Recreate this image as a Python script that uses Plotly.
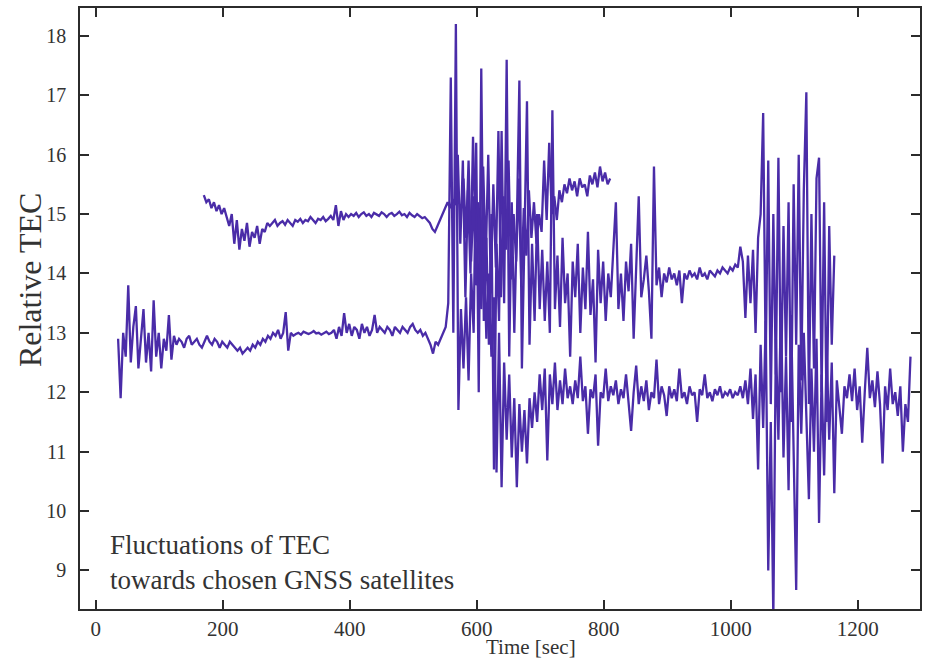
import plotly.graph_objects as go

# ---------------- data ----------------
x_ticks = [0, 200, 400, 600, 800, 1000, 1200]
y_ticks = [9, 10, 11, 12, 13, 14, 15, 16, 17, 18]

# time step of every series [sec]
STEP = 4

# series A: satellite seen from t = 35 s
a_start = 35
a_tec = [
    12.9, 11.9, 13.0, 12.6, 13.8, 12.5, 13.1, 13.45, 12.4, 12.9, 13.4, 12.5, 13.0, 12.35, 13.55, 12.6, 13.0, 12.4, 12.9, 12.7, 13.3, 12.55,
    12.95, 12.8, 12.9, 12.85, 12.75, 12.9, 12.95, 12.8, 12.85, 12.9, 12.8, 12.75, 12.85, 12.95, 12.85, 12.8, 12.9, 12.85, 12.75, 12.85, 12.8, 12.75, 12.85, 12.8, 12.75,
    12.7, 12.75, 12.65, 12.7, 12.75, 12.7, 12.8, 12.75, 12.85, 12.8,
    12.9, 12.85, 12.95, 12.9, 13.0, 12.95, 13.05, 12.9, 13.0, 13.35, 12.7, 13.0, 12.95,
    12.98, 13.0, 12.97, 13.02, 13.0, 12.98, 13.0, 13.03, 12.99, 13.0, 12.97, 13.0, 13.02, 12.98, 13.0,
    13.05, 12.9, 13.1, 12.95, 13.33, 13.0, 13.15, 12.95, 13.1, 13.05, 12.9, 13.15, 13.0, 13.1, 12.95, 13.05, 13.3, 13.0, 13.1,
    13.05, 13.0, 13.1, 13.05, 12.95, 13.1, 13.05, 13.0, 13.1, 13.05, 13.0, 13.1, 13.15, 13.05, 13.0, 13.05, 12.95, 13.0,
    12.9, 12.8, 12.65, 12.85, 12.8, 12.9, 13.0, 13.1,
    13.5, 17.3, 13.0, 18.2, 11.7,
    13.4, 12.4, 13.6, 12.2, 14.0, 13.0, 16.2, 12.0, 17.45, 13.2, 14.6, 12.8, 15.0, 10.7, 14.5, 13.2,
    16.4, 13.5, 17.6, 12.6, 15.2, 13.0, 14.8, 17.25, 12.4, 14.6, 16.9, 12.8, 14.5, 13.2, 15.0, 13.4,
    14.4, 13.2, 14.2, 13.0, 16.75, 13.4, 14.3, 13.1, 14.6, 13.5,
    14.0, 12.6, 14.2, 13.6, 14.5, 13.0, 14.1, 13.4, 14.7, 13.3,
    13.9, 12.5, 14.4, 13.5, 14.2, 13.2, 14.0, 13.6, 14.3, 15.2,
    13.4, 14.0, 13.2, 14.2, 13.7, 14.5, 12.9, 14.3, 15.3, 13.6,
    13.9, 14.3, 13.7, 12.9, 15.8, 13.8, 14.1, 13.6, 14.0, 13.85,
    14.1, 13.9, 14.0, 13.8, 14.05, 13.5, 14.0, 13.9, 14.05, 13.95,
    14.0, 13.9, 14.1, 13.95, 14.0, 13.9, 14.05, 14.0, 13.95, 14.05,
    14.0, 14.1, 14.05, 14.0, 14.1, 14.05, 14.15, 14.1,
    14.45, 14.2, 13.25, 14.3, 13.5, 14.4, 13.0, 14.6,
    15.0, 16.7, 12.5, 15.9, 11.8, 15.0, 12.3, 15.95, 12.0, 14.8,
    12.6, 15.2, 11.5, 15.5, 12.8, 16.0, 12.2, 15.4, 17.05, 11.8,
    15.0, 12.4, 15.6, 15.95, 12.0, 15.2, 11.5, 14.8, 12.8, 14.3,
]

# series B: satellite seen from t = 170 s
b_start = 170
b_tec = [
    15.32, 15.2, 15.25, 15.1, 15.2, 15.05, 15.15, 15.0, 15.1, 14.95,
    14.8, 15.0, 14.5, 14.9, 14.4, 14.75, 14.55, 14.85, 14.45, 14.7, 14.6, 14.8, 14.5, 14.75, 14.7, 14.85,
    14.8, 14.85, 14.9, 14.8, 14.85, 14.88, 14.82, 14.9, 14.85, 14.8, 14.9, 14.87, 14.92, 14.85, 14.9,
    14.88, 14.95, 14.9, 14.85, 14.92, 14.9, 14.95, 14.88, 14.92, 14.97, 14.9, 15.15,
    14.8, 15.05, 14.9, 15.0, 14.95, 15.0, 14.97, 15.02, 14.95, 15.0, 15.03, 14.97, 15.0, 14.95, 15.02,
    15.0, 14.97, 15.03, 15.0, 14.95, 15.0, 15.02, 14.97, 15.0, 15.04, 14.98, 15.0, 14.95, 15.02, 14.98,
    14.95, 15.0, 14.97, 14.93, 14.95, 14.9,
    14.85, 14.75, 14.7, 14.8, 14.9, 15.0, 15.1, 15.2, 15.1, 15.25, 15.15,
    16.0, 14.5, 15.9, 13.6, 15.4, 14.0, 16.3, 14.6, 15.2, 13.5, 15.8, 14.2, 16.0, 13.8, 15.5, 14.1,
    16.4, 13.6, 15.3, 14.4, 15.9, 13.9, 15.0, 14.2, 15.6, 13.8, 15.1, 14.3, 15.4, 14.6, 15.2, 14.5, 15.0,
    14.7, 15.9, 14.9, 16.2, 15.0, 15.3, 14.9, 15.4, 15.2, 15.5, 15.35, 15.6, 15.4, 15.55,
    15.3, 15.6, 15.45, 15.5, 15.3, 15.65, 15.5, 15.7, 15.45, 15.8, 15.55, 15.7, 15.5, 15.6,
]

# series C: satellite seen from t = 579 s
c_start = 579
c_tec = [
    15.6, 14.6, 15.9, 14.2, 15.3, 13.8, 15.0, 13.4, 14.6, 12.9, 14.0, 12.6, 13.6, 10.65, 13.0, 10.4,
    12.5, 11.2, 12.3, 10.9, 11.9, 10.4,
    11.8, 11.0, 11.7, 10.8, 11.9, 11.4, 12.0, 11.5, 12.3, 11.7, 12.4, 10.85, 12.3, 11.8, 12.5, 11.7,
    12.2, 11.8, 12.4, 11.9, 12.1,
    11.8, 12.2, 11.9, 12.6, 11.85, 12.1, 11.3, 12.05, 11.9, 12.3,
    11.1, 12.0, 11.9, 12.4, 11.85, 12.1, 11.95, 12.2, 11.8, 12.05,
    11.9, 12.3, 11.75, 11.35, 12.0, 12.45, 11.8, 12.1, 11.85, 12.2,
    11.7, 12.0, 11.9, 12.55, 11.8, 12.1, 11.95, 11.6, 12.1, 11.9,
    12.05, 11.85, 12.4, 11.9, 12.0, 11.8, 12.1, 11.95, 12.0, 11.5,
    12.05, 11.95, 12.3, 11.9, 12.0, 11.85, 12.05, 11.95, 12.1, 11.9,
    12.0, 11.95, 12.05, 11.9, 12.0, 11.95, 12.1, 11.9, 12.2, 11.8,
    12.4, 11.55, 12.3,
    10.7, 12.8, 11.4, 13.2, 9.0, 11.5, 8.2, 12.9, 11.2, 13.5,
    10.9, 12.6, 10.35, 13.3, 11.0, 8.67, 12.8, 11.3, 13.0, 11.6,
    10.2, 12.4, 11.0, 12.9, 9.8, 12.3, 10.6, 12.7, 11.2, 12.5, 10.3,
    12.2, 11.8, 11.3, 12.1, 11.9, 12.3, 11.85, 12.4, 11.7, 12.1,
    11.15, 12.0, 12.75, 11.9, 12.2, 11.75, 12.35, 11.8, 10.8, 12.1,
    11.7, 12.4, 11.8, 12.0, 11.6, 12.1, 11.0, 11.8, 11.5, 12.6,
]

series = [(a_start, a_tec), (b_start, b_tec), (c_start, c_tec)]

# ---------------- styling ----------------
LINE_COLOR = "#4a2ca8"
AXIS_COLOR = "#2b2b2b"
TEXT_COLOR = "#333333"
SERIF = "Liberation Serif"

fig = go.Figure()
for start, vals in series:
    times = [start + STEP * k for k in range(len(vals))]
    fig.add_trace(go.Scatter(x=times, y=vals, mode="lines",
                             line=dict(color=LINE_COLOR, width=2.3),
                             showlegend=False, hoverinfo="skip"))

axis_common = dict(showline=True, linecolor=AXIS_COLOR, linewidth=1.5,
                   mirror="ticks", ticks="inside", ticklen=9, tickwidth=1.5,
                   tickcolor=AXIS_COLOR, showgrid=False, zeroline=False)

fig.update_layout(
    width=928, height=658, autosize=False,
    margin=dict(l=80, r=6, t=8, b=49),
    paper_bgcolor="white", plot_bgcolor="white",
    xaxis=dict(range=[-25, 1298], tickvals=x_ticks,
               tickfont=dict(family=SERIF, size=21, color=TEXT_COLOR),
               ticklabelstandoff=0, **axis_common),
    yaxis=dict(range=[8.35, 18.47], tickvals=y_ticks,
               tickfont=dict(family=SERIF, size=20, color=TEXT_COLOR),
               ticklabelstandoff=8, **axis_common),
    annotations=[
        dict(text="Fluctuations of TEC<br>towards chosen GNSS satellites",
             xref="x", yref="y", x=19, y=9.14, xanchor="left", yanchor="middle",
             align="left", showarrow=False,
             font=dict(family=SERIF, size=27, color=TEXT_COLOR)),
        dict(text="Time [sec]", xref="x", yref="paper", x=685, y=-0.063,
             xanchor="center", yanchor="middle", showarrow=False,
             font=dict(family=SERIF, size=21, color=TEXT_COLOR)),
        dict(text="Relative TEC", xref="paper", yref="y", x=-0.0594, y=13.89,
             xanchor="center", yanchor="middle", textangle=-90, showarrow=False,
             font=dict(family=SERIF, size=32, color=TEXT_COLOR)),
    ],
)

fig.write_html("out.html")
